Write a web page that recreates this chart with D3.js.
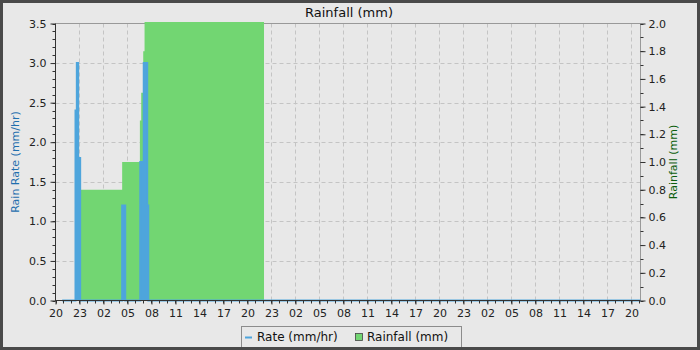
<!DOCTYPE html>
<html>
<head>
<meta charset="utf-8">
<script src="https://cdn.jsdelivr.net/npm/d3@7/dist/d3.min.js"></script>
<style>
  html, body { margin: 0; padding: 0; background: #e8e8e8; }
  svg { display: block; font-family: "DejaVu Sans", sans-serif; }
</style>
</head>
<body>
<svg id="chart" width="700" height="350"></svg>
<script>
// ---- data ----
const domainStart = "2024-05-01 20:00";
const domainEnd   = "2024-05-04 21:08";

const rateTimes  = ["2024-05-01 20:50", "2024-05-01 22:30", "2024-05-01 22:40", "2024-05-01 22:50", "2024-05-01 23:05",
                    "2024-05-02 04:20", "2024-05-02 04:43", "2024-05-02 06:36", "2024-05-02 07:02", "2024-05-02 07:28",
                    "2024-05-02 07:36", "2024-05-04 21:08"];
const rateValues = [0, 2.4, 3.0, 1.8, 0, 1.2, 0, 1.75, 3.0, 1.2, 0, 0];

const rainTimes  = ["2024-05-01 20:50", "2024-05-01 23:05", "2024-05-02 04:20", "2024-05-02 06:33", "2024-05-02 06:43",
                    "2024-05-02 06:58", "2024-05-02 07:08", "2024-05-02 22:04", "2024-05-04 21:08"];
const rainValues = [0, 0.8, 1.0, 1.3, 1.5, 1.8, 2.01, 0, 0];

const rateTicks = [0, 0.5, 1.0, 1.5, 2.0, 2.5, 3.0, 3.5];
const rainTicks = [0, 0.2, 0.4, 0.6, 0.8, 1.0, 1.2, 1.4, 1.6, 1.8, 2.0];
const xLabelEvery = 3; // hours

const titleText = "Rainfall (mm)";
const leftLabel = "Rain Rate (mm/hr)";
const rightLabel = "Rainfall (mm)";
const legendItems = ["Rate (mm/hr)", "Rainfall (mm)"];

// ---- setup ----
const parse = d3.utcParse("%Y-%m-%d %H:%M");
const W = 700, H = 350;
const L = 55.5, R = 640.5, T = 23.5, B = 300.5;

const BLUE = "#4ea5dc";
const GREEN = "#72d672";

const svg = d3.select("#chart");
svg.append("rect").attr("x", 0).attr("y", 0).attr("width", W).attr("height", H).attr("fill", "#e8e8e8");

const x = d3.scaleUtc().domain([parse(domainStart), parse(domainEnd)]).range([L, R]);
const yRate = d3.scaleLinear().domain([0, 3.5]).range([B, T]);
const yRain = d3.scaleLinear().domain([0, 2.0]).range([B, T]);

const allHours = d3.utcHour.range(parse(domainStart), d3.utcMinute.offset(parse(domainEnd), 1));
const majorHours = allHours.filter((d, i) => i % xLabelEvery === 0);

// grid
const grid = svg.append("g").attr("stroke", "#c4c4c4").attr("stroke-dasharray", "4,3").attr("stroke-width", 1);
majorHours.slice(1).forEach(d => {
  const px = Math.round(x(d)) + 0.5;
  grid.append("line").attr("x1", px).attr("x2", px).attr("y1", T).attr("y2", B);
});
rateTicks.slice(1, -1).forEach(v => {
  const py = Math.round(yRate(v)) + 0.5;
  grid.append("line").attr("x1", L).attr("x2", R).attr("y1", py).attr("y2", py);
});

// top + right border
svg.append("line").attr("x1", L).attr("x2", R).attr("y1", T).attr("y2", T).attr("stroke", "#999");
svg.append("line").attr("x1", R).attr("x2", R).attr("y1", T).attr("y2", B).attr("stroke", "#999");

// rainfall area
const rainData = rainTimes.map((t, i) => ({ t: parse(t), v: rainValues[i] }));
svg.append("path")
  .datum(rainData)
  .attr("fill", GREEN)
  .attr("d", d3.area().curve(d3.curveStepAfter).x(d => x(d.t)).y0(yRain(0)).y1(d => yRain(d.v)));

// rate area + line
const rateData = rateTimes.map((t, i) => ({ t: parse(t), v: rateValues[i] }));
svg.append("path")
  .datum(rateData)
  .attr("fill", BLUE)
  .attr("d", d3.area().curve(d3.curveStepAfter).x(d => x(d.t)).y0(yRate(0)).y1(d => yRate(d.v)));
svg.append("path")
  .datum(rateData)
  .attr("fill", "none")
  .attr("stroke", BLUE)
  .attr("stroke-width", 2)
  .attr("d", d3.line().curve(d3.curveStepAfter).x(d => x(d.t)).y(d => yRate(d.v)));

// ---- axes ----
const fmt1 = d3.format(".1f");
function styleAxis(g) {
  g.selectAll("text").attr("fill", "#222").style("font-size", "11px").style("font-family", "DejaVu Sans, sans-serif");
  g.selectAll("line").attr("stroke", "#333");
  g.select(".domain").remove();
}

// left minor ticks
const minorRate = d3.range(0, 3.5001, 0.1);
const lMinor = svg.append("g");
minorRate.forEach(v => {
  const py = Math.round(yRate(v)) + 0.5;
  lMinor.append("line").attr("x1", L - 3).attr("x2", L).attr("y1", py).attr("y2", py).attr("stroke", "#333");
});
const gl = svg.append("g").attr("transform", `translate(${L},0)`)
  .call(d3.axisLeft(yRate).tickValues(rateTicks).tickFormat(fmt1).tickSize(5).tickPadding(4));
styleAxis(gl);
svg.append("line").attr("x1", L).attr("x2", L).attr("y1", T).attr("y2", B + 0.5).attr("stroke", "#333");

// right
const minorRain = d3.range(0, 2.0001, 0.1);
const rMinor = svg.append("g");
minorRain.forEach(v => {
  const py = Math.round(yRain(v)) + 0.5;
  rMinor.append("line").attr("x1", R).attr("x2", R + 3).attr("y1", py).attr("y2", py).attr("stroke", "#333");
});
const gr = svg.append("g").attr("transform", `translate(${R},0)`)
  .call(d3.axisRight(yRain).tickValues(rainTicks).tickFormat(fmt1).tickSize(5).tickPadding(3));
styleAxis(gr);

// bottom
const bMinor = svg.append("g");
allHours.forEach(d => {
  const px = Math.round(x(d)) + 0.5;
  bMinor.append("line").attr("x1", px).attr("x2", px).attr("y1", B).attr("y2", B + 3).attr("stroke", "#333");
});
const gb = svg.append("g").attr("transform", `translate(0,${B})`)
  .call(d3.axisBottom(x).tickValues(majorHours).tickFormat(d3.utcFormat("%H")).tickSize(4).tickPadding(5));
styleAxis(gb);
svg.append("line").attr("x1", L).attr("x2", R).attr("y1", B).attr("y2", B).attr("stroke", "#333");

// ---- texts ----
svg.append("text").attr("x", 349).attr("y", 16.5).attr("text-anchor", "middle")
  .style("font-size", "13px").attr("fill", "#111").text(titleText);

svg.append("text").attr("transform", `translate(19,${(T + B) / 2}) rotate(-90)`)
  .attr("text-anchor", "middle").style("font-size", "11px").attr("fill", "#1f6fae").text(leftLabel);
svg.append("text").attr("transform", `translate(677,${(T + B) / 2}) rotate(-90)`)
  .attr("text-anchor", "middle").style("font-size", "11px").attr("fill", "#0b5e0b").text(rightLabel);

// legend
const lg = svg.append("g");
lg.append("rect").attr("x", 241.5).attr("y", 326.5).attr("width", 220).attr("height", 24)
  .attr("fill", "#e8e8e8").attr("stroke", "#8c8c8c");
lg.append("line").attr("x1", 245).attr("x2", 252).attr("y1", 337.5).attr("y2", 337.5)
  .attr("stroke", BLUE).attr("stroke-width", 2);
lg.append("text").attr("x", 257).attr("y", 341).style("font-size", "12px").attr("fill", "#111").text(legendItems[0]);
lg.append("rect").attr("x", 355.5).attr("y", 333.5).attr("width", 7).attr("height", 7)
  .attr("fill", GREEN).attr("stroke", "#444").attr("stroke-width", 0.8);
lg.append("text").attr("x", 367).attr("y", 341).style("font-size", "12px").attr("fill", "#111").text(legendItems[1]);

// outer frame
svg.append("rect").attr("x", 1.5).attr("y", 1.5).attr("width", W - 3).attr("height", H - 3)
  .attr("fill", "none").attr("stroke", "#4a4a4a").attr("stroke-width", 3);
</script>
</body>
</html>
